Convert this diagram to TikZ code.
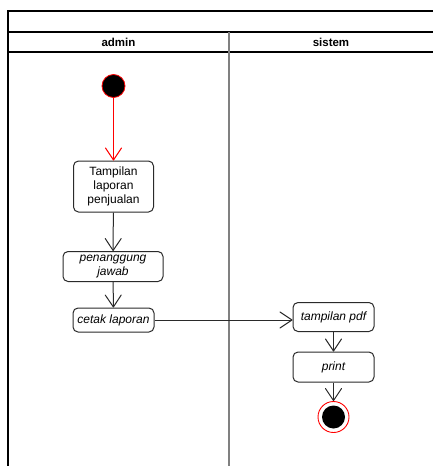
\documentclass[tikz,border=0pt]{standalone}
\usepackage{fontspec}
\setmainfont{Liberation Sans}
\usetikzlibrary{arrows.meta}
\definecolor{flowred}{HTML}{FF0000}
\definecolor{edge}{HTML}{2A2A2A}
\tikzset{vtip/.tip={Straight Barb[length=12pt,width=16pt,line width=1pt,round]}}
\begin{document}
\begin{tikzpicture}[x=1pt,y=-1pt,
  act/.style={draw=edge,line width=1pt,rounded corners=5pt,fill=white,
    align=center,inner sep=0pt,font=\fontsize{12}{14}\selectfont},
  actit/.style={act,font=\itshape\fontsize{12}{14}\selectfont},
  flow/.style={draw=edge,line width=1pt,-vtip},
  frame/.style={line width=1.4pt,black},
  lanehead/.style={font=\bfseries\fontsize{11.5}{13}\selectfont}]
\useasboundingbox (0,0) rectangle (433,466);
% swimlane frame
\draw[frame] (433,11) -- (8,11) -- (8,466);
\draw[frame] (8,32) -- (433,32);
\draw[frame] (8,52) -- (433,52);
\draw[line width=2pt,gray] (229,32) -- (229,466);
\node[lanehead] (hadmin) at (118.5,42) {admin};
\node[lanehead] (hsistem) at (331,42) {sistem};
% start node
\node[circle,fill=black,draw=flowred,line width=0.8pt,minimum size=23pt,inner sep=0pt] (start) at (113.5,86) {};
% actions
\node[act,minimum width=80pt,minimum height=51pt] (tampil) at (113.5,186.5) {Tampilan\\laporan\\penjualan};
\node[actit,minimum width=100pt,minimum height=30pt] (pj) at (113,266.5) {penanggung\\jawab};
\node[actit,minimum width=81pt,minimum height=24pt] (cetak) at (113.5,320) {cetak laporan};
\node[actit,minimum width=81pt,minimum height=29pt] (pdf) at (333.5,317) {tampilan pdf};
\node[actit,minimum width=81pt,minimum height=30pt] (print) at (333.5,367) {print};
% end node
\node[circle,draw=flowred,line width=0.9pt,fill=white,minimum size=31pt,inner sep=0pt] (end) at (333.5,417) {};
\node[circle,fill=black,minimum size=23pt,inner sep=0pt] (endin) at (end.center) {};
% control flows
\draw[flow,draw=flowred] (start) -- (tampil);
\draw[flow] (tampil) -- (pj);
\draw[flow] (pj) -- (cetak);
\draw[flow] (cetak.east) -- (cetak.east -| pdf.west);
\draw[flow] (print.south |- pdf.south) -- (print.north);
\draw[flow] (print) -- (end);
\end{tikzpicture}
\end{document}
